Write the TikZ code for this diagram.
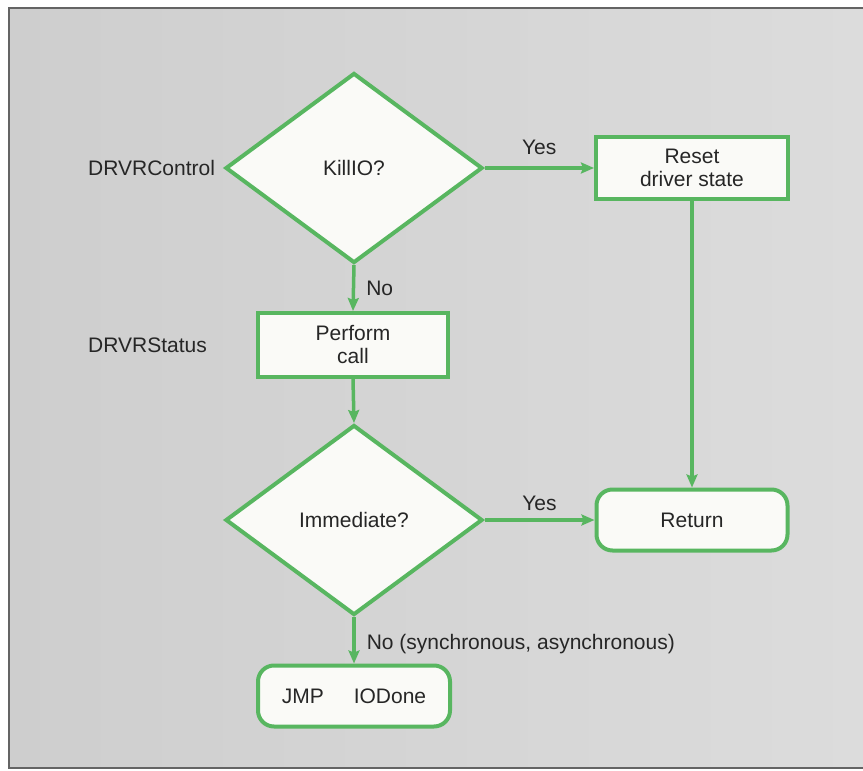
\documentclass[tikz,border=0pt]{standalone}
\usepackage{fontspec}
\setmainfont{Liberation Sans}
\usetikzlibrary{shapes.geometric,arrows.meta}
\definecolor{flowgreen}{RGB}{88,182,96}
\definecolor{boxfill}{RGB}{250,250,247}
\definecolor{txt}{RGB}{38,38,38}
\definecolor{bgleft}{RGB}{206,206,206}
\definecolor{bgright}{RGB}{220,220,220}
\definecolor{framec}{RGB}{100,100,100}
\tikzset{
  decision/.style={diamond, draw=flowgreen, line width=4pt, fill=boxfill, inner sep=0pt,
    minimum width=257pt, minimum height=190pt, text=txt, font=\fontsize{21}{23}\selectfont},
  procbox/.style={rectangle, draw=flowgreen, line width=4pt, fill=boxfill, inner sep=0pt,
    minimum width=190pt, minimum height=62pt, align=center, text=txt, font=\fontsize{21}{23}\selectfont},
  termbox/.style={procbox, rounded corners=16pt},
  lbl/.style={text=txt, font=\fontsize{21}{23}\selectfont, inner sep=0pt},
  flow/.style={draw=flowgreen, line width=3.5pt, -{Stealth[length=13pt,width=11pt,inset=2pt]}},
}
\begin{document}
\begin{tikzpicture}[x=1pt,y=-1pt]
\useasboundingbox (0,0) rectangle (863,771);
\fill[white] (0,0) rectangle (863,771);
\shade[left color=bgleft, right color=bgright] (9,8) rectangle (863,768);
\draw[framec, line width=1.1pt] (863,8) -- (9,8) -- (9,768) -- (863,768);

\node[decision] (kill) at (354,168) {KillIO?};
\node[procbox, minimum width=192pt] (reset) at (692,168) {Reset\\driver state};
\node[procbox, minimum height=64pt] (perform) at (353,345) {Perform\\call};
\node[decision] (imm) at (354,520) {Immediate?};
\node[termbox, minimum width=191pt, minimum height=61pt] (ret) at (692,520) {Return};
\node[termbox, minimum width=192pt, minimum height=61pt] (jmp) at (354,696) {JMP\hspace{30pt}IODone};

\node[lbl, anchor=west] (ctl) at (88,168) {DRVRControl};
\node[lbl, anchor=west] (sts) at (88,345) {DRVRStatus};

\draw[flow] (kill.east) -- node[lbl, above=12pt] (yes1) {Yes} (reset.west);
\draw[flow] (kill.south) -- node[lbl, right=11pt] (no1) {No} (perform.north);
\draw[flow] (perform.south) -- (imm.north);
\draw[flow] (imm.east) -- node[lbl, above=8pt] (yes2) {Yes} (ret.west);
\draw[flow] (reset.south) -- (ret.north);
\draw[flow] (imm.south) -- node[lbl, anchor=west, xshift=11pt, yshift=-4pt] (no2) {No (synchronous, asynchronous)} (jmp.north);
\end{tikzpicture}
\end{document}
